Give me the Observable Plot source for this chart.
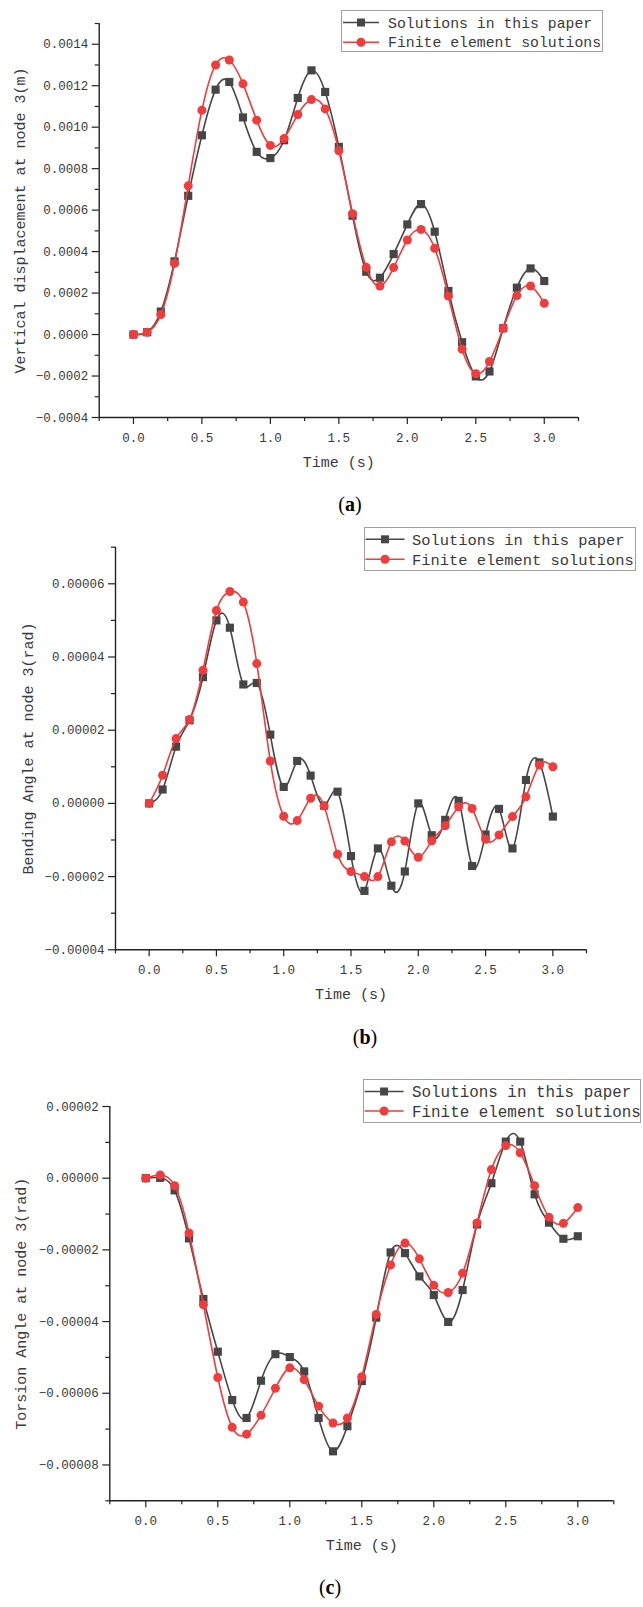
<!DOCTYPE html>
<html>
<head>
<meta charset="utf-8">
<script src="https://cdn.jsdelivr.net/npm/d3@7"></script>
<script src="https://cdn.jsdelivr.net/npm/@observablehq/plot@0.6"></script>
<style>
  body { margin: 0; background: #fff; }
  #page { position: relative; width: 643px; height: 1607px; overflow: hidden; background: #fff; }
  .panel { position: absolute; left: 0; }
  .legend { position: absolute; }
  .cap { position: absolute; font-family: "Liberation Serif", "DejaVu Serif", serif; font-size: 20px; color: #000; transform: translate(-50%, -50%); white-space: nowrap; }
</style>
</head>
<body>
<div id="page"></div>
<script>
// ---------------- DATA ----------------
const time = [0.0, 0.1, 0.2, 0.3, 0.4, 0.5, 0.6, 0.7, 0.8, 0.9, 1.0, 1.1, 1.2, 1.3, 1.4, 1.5,
              1.6, 1.7, 1.8, 1.9, 2.0, 2.1, 2.2, 2.3, 2.4, 2.5, 2.6, 2.7, 2.8, 2.9, 3.0];

const seriesNames = ["Solutions in this paper", "Finite element solutions"];

// (a) Vertical displacement at node 3 (m)
const vertPaper = [0, 0.0000112, 0.000111, 0.000353, 0.000669, 0.000961, 0.001181, 0.001218, 0.001047, 0.000881,
                   0.000851, 0.000937, 0.001141, 0.001274, 0.00117, 0.000905, 0.000573, 0.000303, 0.000274, 0.000388,
                   0.000531, 0.000629, 0.000496, 0.00021, -0.000037, -0.000202, -0.000178, 0.0000305, 0.000226, 0.000319, 0.000258];
const vertFE = [0, 0.0000112, 0.0000963, 0.000343, 0.000717, 0.001082, 0.0013, 0.001324, 0.001209, 0.001034,
                0.000912, 0.000945, 0.001061, 0.001133, 0.001088, 0.000886, 0.000583, 0.000324, 0.000234, 0.000323,
                0.000456, 0.000507, 0.000416, 0.000185, -0.0000706, -0.000189, -0.00013, 0.0000305, 0.000188, 0.000234, 0.000151];

// (b) Bending angle at node 3 (rad)
const bendPaper = [0, 0.0000038, 0.0000155, 0.0000227, 0.0000345, 0.00005, 0.000048, 0.0000325, 0.0000329, 0.0000188,
                   0.0000045, 0.0000116, 0.0000076, -0.0000006, 0.0000032, -0.0000144, -0.0000239, -0.0000123, -0.0000225, -0.0000186,
                   0.0, -0.0000087, -0.0000045, 0.0000007, -0.0000171, -0.0000085, -0.0000015, -0.0000123, 0.0000064, 0.0000112, -0.0000036];
const bendFE = [0, 0.0000077, 0.0000177, 0.0000229, 0.0000364, 0.0000527, 0.0000579, 0.000055, 0.0000382, 0.0000116,
                -0.0000035, -0.0000047, 0.0000014, -0.0000007, -0.0000139, -0.0000186, -0.00002, -0.00002, -0.0000105, -0.0000103,
                -0.0000147, -0.0000102, -0.0000061, -0.0000009, -0.0000014, -0.0000098, -0.0000086, -0.0000036, 0.0000018, 0.0000105, 0.00001];

// (c) Torsion angle at node 3 (rad)
const torsPaper = [0, 0.0000001, -0.0000034, -0.0000168, -0.0000337, -0.0000484, -0.0000619, -0.0000669, -0.0000565, -0.0000491,
                   -0.0000499, -0.0000539, -0.0000669, -0.0000762, -0.0000692, -0.0000566, -0.0000389, -0.0000207, -0.0000209, -0.0000274,
                   -0.0000326, -0.0000401, -0.0000312, -0.0000129, -0.0000014, 0.0000102, 0.0000102, -0.0000045, -0.0000124, -0.0000169, -0.0000162];
const torsFE = [0, 0.0000009, -0.0000021, -0.0000153, -0.0000353, -0.0000556, -0.0000695, -0.0000714, -0.0000661, -0.0000586,
                -0.0000529, -0.0000562, -0.0000636, -0.0000683, -0.0000669, -0.0000554, -0.000038, -0.0000242, -0.0000181, -0.0000225,
                -0.0000299, -0.0000319, -0.0000265, -0.0000125, 0.0000024, 0.0000091, 0.0000071, -0.0000021, -0.0000109, -0.0000126, -0.0000082];

// tick values
const xMajor = [0, 0.5, 1.0, 1.5, 2.0, 2.5, 3.0];
const xMinor = [-0.25, 0.25, 0.75, 1.25, 1.75, 2.25, 2.75, 3.25];
const yMajorA = [-0.0004, -0.0002, 0, 0.0002, 0.0004, 0.0006, 0.0008, 0.0010, 0.0012, 0.0014];
const yMinorA = [-0.0003, -0.0001, 0.0001, 0.0003, 0.0005, 0.0007, 0.0009, 0.0011, 0.0013, 0.0015];
const yMajorB = [-0.00004, -0.00002, 0, 0.00002, 0.00004, 0.00006];
const yMinorB = [-0.00003, -0.00001, 0.00001, 0.00003, 0.00005, 0.00007];
const yMajorC = [-0.00008, -0.00006, -0.00004, -0.00002, 0, 0.00002];
const yMinorC = [-0.00009, -0.00007, -0.00005, -0.00003, -0.00001, 0.00001];

// ---------------- STYLE ----------------
const BLACK = "#464646";
const RED = "#f03c3c";
const AXIS = "#222";
const TEXT = "#3a3a3a";
const MONO = "'Liberation Mono', 'DejaVu Sans Mono', monospace";

const page = document.getElementById("page");

function rows(vals) { return time.map((t, i) => ({t, v: vals[i]})); }

function makePanel(cfg) {
  const paper = rows(cfg.paper), fe = rows(cfg.fe);
  const chart = Plot.plot({
    width: 643,
    height: cfg.height,
    marginLeft: cfg.ml, marginRight: cfg.mr, marginTop: cfg.mt, marginBottom: cfg.mb,
    style: {fontFamily: MONO, color: AXIS, background: "transparent", overflow: "visible"},
    x: {domain: [-0.25, 3.25]},
    y: {domain: cfg.ydomain},
    marks: [
      Plot.axisY({ticks: cfg.yMinor, tickSize: 4, tickFormat: () => "", label: null, strokeWidth: 1.2}),
      Plot.axisY({ticks: cfg.yMajor, tickSize: 7, tickPadding: 4, tickFormat: d3.format(cfg.fmt), label: null,
                  fontSize: cfg.tickFont, fill: TEXT, strokeWidth: 1.2}),
      Plot.axisY({ticks: [], label: cfg.ylabel, labelAnchor: "center", labelArrow: "none", labelOffset: cfg.ylabelOffset,
                  fontSize: cfg.labelFont, fill: TEXT}),
      Plot.axisX({ticks: xMinor, tickSize: 4, tickFormat: () => "", label: null, strokeWidth: 1.2}),
      Plot.axisX({ticks: xMajor, tickSize: 7, tickPadding: 8.5, tickFormat: d3.format(".1f"), label: null,
                  fontSize: cfg.tickFont, fill: TEXT, strokeWidth: 1.2}),
      Plot.axisX({ticks: [], label: "Time (s)", labelAnchor: "center", labelArrow: "none", labelOffset: 49,
                  fontSize: cfg.labelFont, fill: TEXT}),
      Plot.ruleX([-0.25], {stroke: AXIS, strokeWidth: 1.4}),
      Plot.ruleY([cfg.ydomain[0]], {stroke: AXIS, strokeWidth: 1.4}),
      Plot.line(paper, {x: "t", y: "v", curve: "natural", stroke: BLACK, strokeWidth: 1.6}),
      Plot.dot(paper, {x: "t", y: "v", symbol: "square", r: 4.6, fill: BLACK, stroke: "none"}),
      Plot.line(fe, {x: "t", y: "v", curve: "natural", stroke: RED, strokeWidth: 1.6}),
      Plot.dot(fe, {x: "t", y: "v", symbol: "circle", r: 4.5, fill: RED, stroke: "none"})
    ]
  });
  chart.classList.add("panel");
  chart.style.top = cfg.top + "px";
  chart.style.position = "absolute";
  page.appendChild(chart);

  // legend
  const L = cfg.legend;
  const ns = "http://www.w3.org/2000/svg";
  const svg = document.createElementNS(ns, "svg");
  svg.setAttribute("width", L.w); svg.setAttribute("height", L.h);
  svg.setAttribute("class", "legend");
  svg.style.left = L.left + "px"; svg.style.top = L.top + "px";
  const rect = document.createElementNS(ns, "rect");
  rect.setAttribute("x", 0.5); rect.setAttribute("y", 0.5);
  rect.setAttribute("width", L.w - 1); rect.setAttribute("height", L.h - 1);
  rect.setAttribute("fill", "#fff"); rect.setAttribute("stroke", "#a0a0a0");
  svg.appendChild(rect);
  [[BLACK, "square"], [RED, "circle"]].forEach(([col, sym], i) => {
    const y = L.rows[i];
    const ln = document.createElementNS(ns, "line");
    ln.setAttribute("x1", L.x0); ln.setAttribute("x2", L.x1);
    ln.setAttribute("y1", y); ln.setAttribute("y2", y);
    ln.setAttribute("stroke", col); ln.setAttribute("stroke-width", 1.6);
    svg.appendChild(ln);
    const mx = (L.x0 + L.x1) / 2;
    let m;
    if (sym === "square") {
      m = document.createElementNS(ns, "rect");
      m.setAttribute("x", mx - 4); m.setAttribute("y", y - 4);
      m.setAttribute("width", 8); m.setAttribute("height", 8);
    } else {
      m = document.createElementNS(ns, "circle");
      m.setAttribute("cx", mx); m.setAttribute("cy", y); m.setAttribute("r", 4.5);
    }
    m.setAttribute("fill", col);
    svg.appendChild(m);
    const tx = document.createElementNS(ns, "text");
    tx.setAttribute("x", L.tx); tx.setAttribute("y", y);
    tx.setAttribute("dy", "0.35em");
    tx.setAttribute("font-family", MONO);
    tx.setAttribute("font-size", L.font);
    tx.setAttribute("fill", TEXT);
    tx.textContent = seriesNames[i];
    svg.appendChild(tx);
  });
  page.appendChild(svg);

  // caption
  const cap = document.createElement("div");
  cap.className = "cap";
  cap.style.left = cfg.cap.x + "px";
  cap.style.top = cfg.cap.y + "px";
  cap.innerHTML = "(<b>" + cfg.cap.letter + "</b>)";
  page.appendChild(cap);
}

makePanel({
  top: 0, height: 480, ml: 98.7, mr: 65, mt: 23, mb: 63,
  ydomain: [-0.0004, 0.0015], yMajor: yMajorA, yMinor: yMinorA, fmt: ".4f",
  ylabel: "Vertical displacement at node 3(m)", ylabelOffset: 85,
  tickFont: 12.5, labelFont: 15,
  paper: vertPaper, fe: vertFE,
  legend: {left: 341, top: 10, w: 262, h: 42, rows: [12.5, 32.3], x0: 2, x1: 38, tx: 47, font: 14.8},
  cap: {x: 350, y: 504, letter: "a"}
});

makePanel({
  top: 520, height: 480, ml: 115, mr: 57, mt: 26.7, mb: 50.7,
  ydomain: [-0.00004, 0.00007], yMajor: yMajorB, yMinor: yMinorB, fmt: ".5f",
  ylabel: "Bending Angle at node 3(rad)", ylabelOffset: 93,
  tickFont: 12.5, labelFont: 15,
  paper: bendPaper, fe: bendFE,
  legend: {left: 363.5, top: 526.7, w: 272, h: 44, rows: [12.3, 32.3], x0: 1.5, x1: 40.5, tx: 48, font: 15.4},
  cap: {x: 365, y: 1037, letter: "b"}
});

makePanel({
  top: 1060, height: 500, ml: 109.3, mr: 29.7, mt: 46, mb: 59.7,
  ydomain: [-0.00009, 0.00002], yMajor: yMajorC, yMinor: yMinorC, fmt: ".5f",
  ylabel: "Torsion Angle at node 3(rad)", ylabelOffset: 94,
  tickFont: 12.5, labelFont: 15,
  paper: torsPaper, fe: torsFE,
  legend: {left: 363.4, top: 1079, w: 278, h: 44, rows: [12.5, 32], x0: 1.6, x1: 40.6, tx: 49, font: 15.9},
  cap: {x: 330, y: 1587, letter: "c"}
});
</script>
</body>
</html>
